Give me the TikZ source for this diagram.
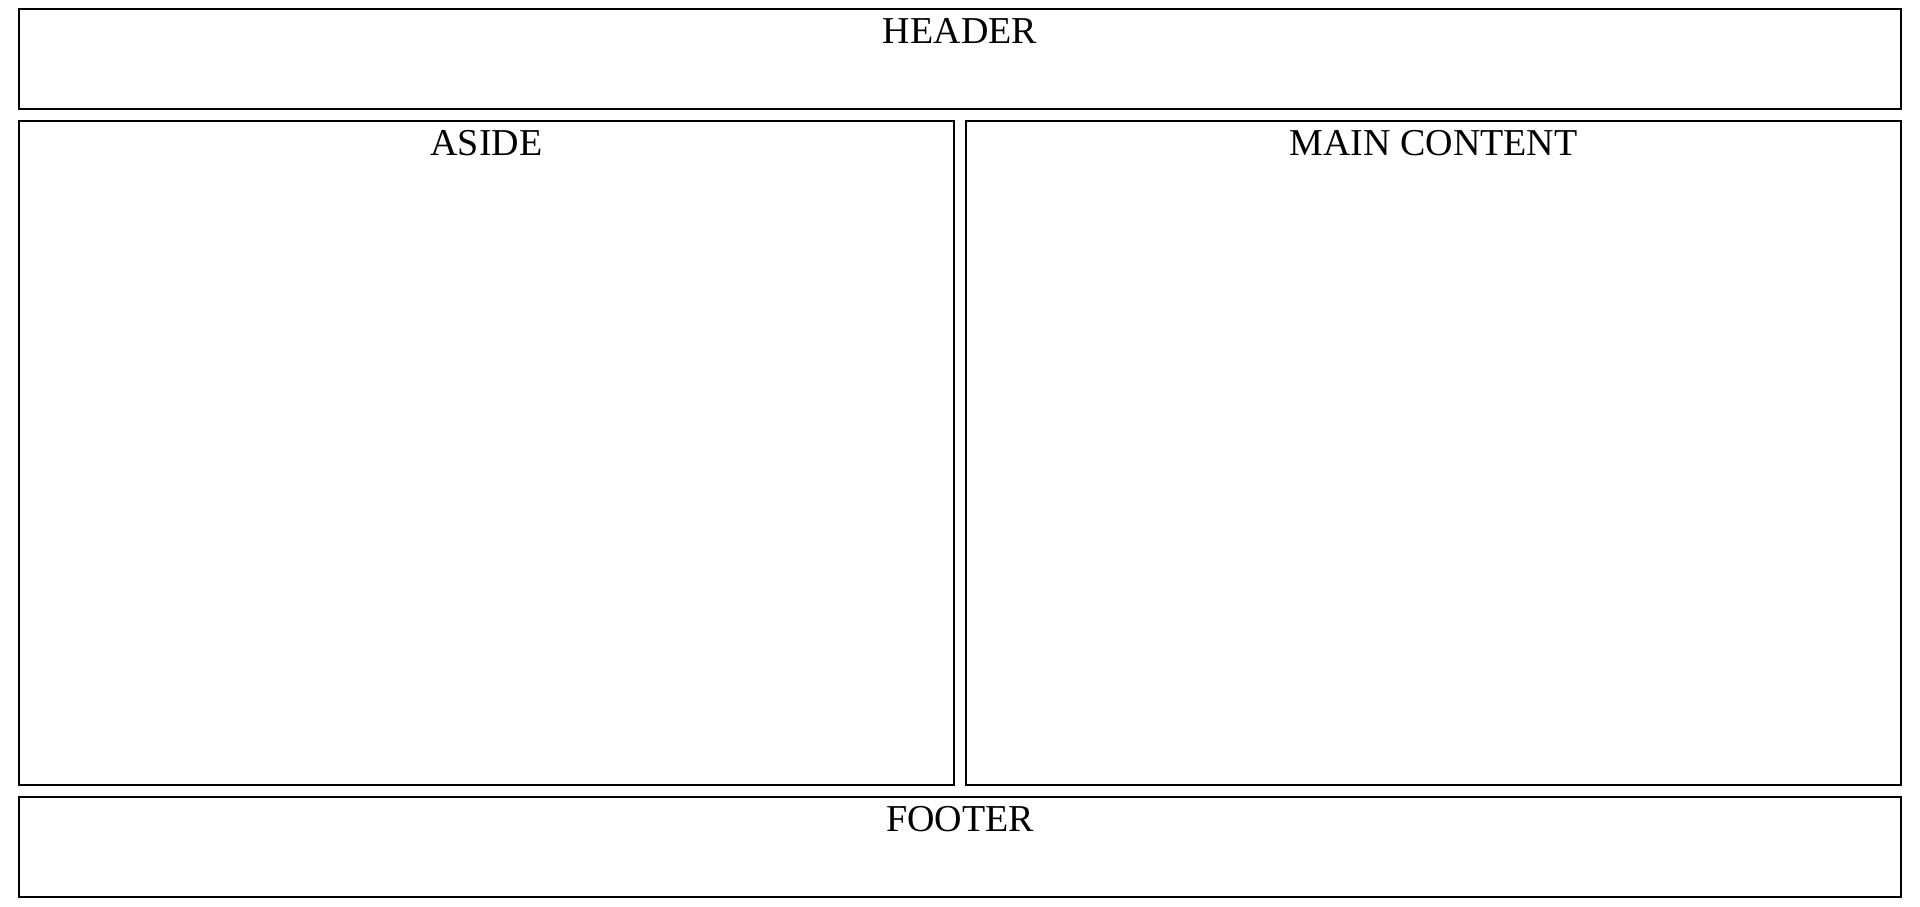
\documentclass[tikz,border=0pt]{standalone}
\usepackage{fontspec}
\setmainfont{Liberation Serif}
\begin{document}
\begin{tikzpicture}[x=1pt,y=-1pt,
  panel/.style={draw=black,line width=2pt},
  lbl/.style={anchor=base,inner sep=0pt,font=\fontsize{38}{40}\selectfont}]
\useasboundingbox (0,0) rectangle (1920,906);
\draw[panel] (19,9) rectangle (1901,109);
\draw[panel] (19,121) rectangle (954,785);
\draw[panel] (966,121) rectangle (1901,785);
\draw[panel] (19,797) rectangle (1901,897);
\node[lbl] (header) at (960,43) {HEADER};
\node[lbl] (aside) at (486.5,155) {ASIDE};
\node[lbl] (main) at (1433.5,155) {MAIN CONTENT};
\node[lbl] (footer) at (960,831) {FOOTER};
\end{tikzpicture}
\end{document}
